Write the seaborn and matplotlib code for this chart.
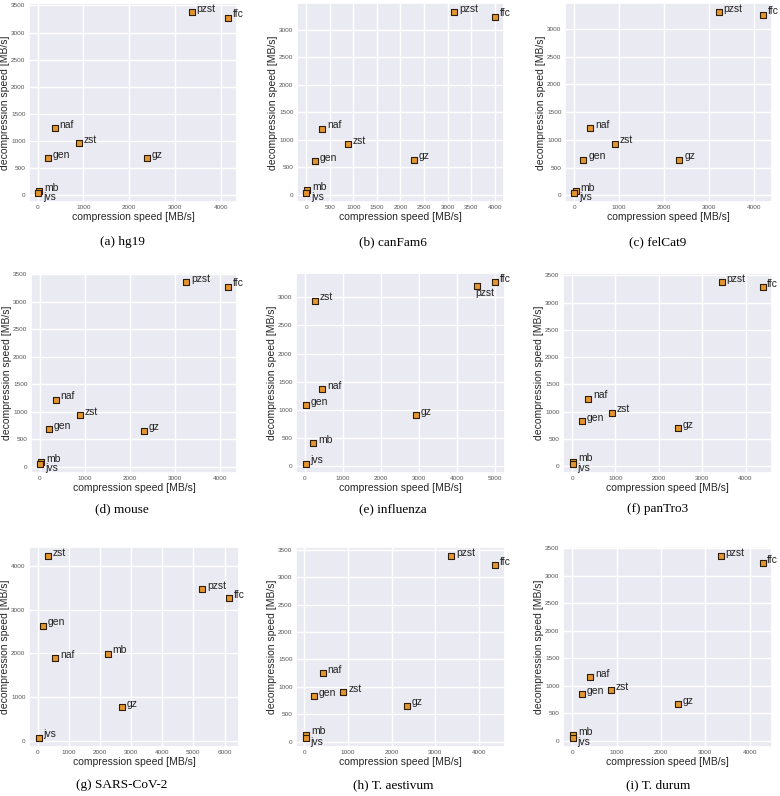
import pandas as pd
import matplotlib
matplotlib.use("Agg")
import matplotlib.pyplot as plt
from matplotlib.ticker import MultipleLocator
import seaborn as sns

# tools, same order in every panel
tools = ["mb", "jvs", "gen", "naf", "zst", "gz", "pzst", "ffc"]

hg19_comp = [36, 15, 218, 371, 903, 2389, 3365, 4151]
hg19_decomp = [75, 43, 679, 1236, 961, 679, 3378, 3274]

canfam6_comp = [28, 7, 190, 344, 879, 2285, 3135, 3993]
canfam6_decomp = [78, 30, 608, 1199, 916, 633, 3325, 3241]

felcat9_comp = [37, 7, 207, 354, 908, 2347, 3218, 4199]
felcat9_decomp = [72, 42, 639, 1207, 926, 639, 3305, 3257]

mouse_comp = [36, 15, 197, 358, 891, 2314, 3241, 4161]
mouse_decomp = [79, 49, 676, 1217, 931, 651, 3354, 3268]

influenza_comp = [220, 18, 18, 458, 257, 2914, 4533, 5018]
influenza_decomp = [407, 41, 1080, 1370, 2940, 903, 3200, 3270]

pantro3_comp = [31, 8, 223, 377, 923, 2438, 3454, 4392]
pantro3_decomp = [85, 43, 830, 1239, 983, 696, 3376, 3278]

sars_comp = [2253, 32, 172, 558, 343, 2715, 5279, 6159]
sars_decomp = [1992, 76, 2636, 1886, 4220, 780, 3470, 3258]

taestivum_comp = [38, 23, 222, 421, 889, 2345, 3356, 4375]
taestivum_decomp = [128, 67, 829, 1250, 902, 652, 3384, 3220]

tdurum_comp = [30, 8, 225, 405, 878, 2387, 3348, 4287]
tdurum_decomp = [103, 55, 851, 1154, 923, 668, 3353, 3226]

captions = ["(a) hg19", "(b) canFam6", "(c) felCat9",
            "(d) mouse", "(e) influenza", "(f) panTro3",
            "(g) SARS-CoV-2", "(h) T. aestivum", "(i) T. durum"]

panels = [
    (hg19_comp, hg19_decomp), (canfam6_comp, canfam6_decomp), (felcat9_comp, felcat9_decomp),
    (mouse_comp, mouse_decomp), (influenza_comp, influenza_decomp), (pantro3_comp, pantro3_decomp),
    (sars_comp, sars_decomp), (taestivum_comp, taestivum_decomp), (tdurum_comp, tdurum_decomp),
]

sns.set_theme(style="darkgrid")
plt.rcParams["font.family"] = ["Liberation Sans", "DejaVu Sans"]

W, H = 780, 796
fig = plt.figure(figsize=(W / 100, H / 100), dpi=100)

# axes boxes in pixels: left, top, width, height
boxes = [
    (29, 3, 208, 199), (297, 3, 207, 199), (565, 3, 207, 199),
    (31, 273, 206, 200), (296, 273, 209, 200), (563, 273, 209, 200),
    (29, 547, 210, 200), (296, 547, 209, 200), (563, 547, 209, 200),
]
xsteps = [1000, 500, 1000, 1000, 1000, 1000, 1000, 1000, 1000]
ysteps = [500, 500, 500, 500, 500, 500, 1000, 500, 500]
cap_x = [122, 393, 658]
cap_y = [242, 509, 785]

default_off = (3.5, 2.5)
special_off = {
    (4, "pzst"): (-1.5, -5),
    (4, "jvs"): default_off,
    (6, "jvs"): default_off,
}

for i, (comp, decomp) in enumerate(panels):
    l, t, w, h = boxes[i]
    ax = fig.add_axes([l / W, 1 - (t + h) / H, w / W, h / H])
    df = pd.DataFrame({"tool": tools, "comp": comp, "decomp": decomp})
    sns.scatterplot(data=df, x="comp", y="decomp", marker="s", s=15,
                    color="#e3962f", edgecolor="#2b1d0a", linewidth=0.8, ax=ax, zorder=3)
    for _, row in df.iterrows():
        off = special_off.get((i, row["tool"]))
        if off is None:
            off = (3.5, -3) if row["tool"] == "jvs" else default_off
        ax.annotate(row["tool"], (row["comp"], row["decomp"]), xytext=off,
                    textcoords="offset points", ha="left", va="center",
                    fontsize=7.5, color="#222222")
    ax.xaxis.set_major_locator(MultipleLocator(xsteps[i]))
    ax.yaxis.set_major_locator(MultipleLocator(ysteps[i]))
    ax.tick_params(labelsize=4.6, length=0, pad=2.5, labelcolor="#555555")
    ax.set_xlabel("compression speed [MB/s]", fontsize=7.5, labelpad=1)
    ax.set_ylabel("decompression speed [MB/s]", fontsize=7.5, labelpad=1)
    fig.text(cap_x[i % 3] / W, 1 - cap_y[i // 3] / H, captions[i],
             ha="center", va="center", fontsize=9.5, family="Liberation Serif", color="black")

fig.savefig("out.png", dpi=100)
